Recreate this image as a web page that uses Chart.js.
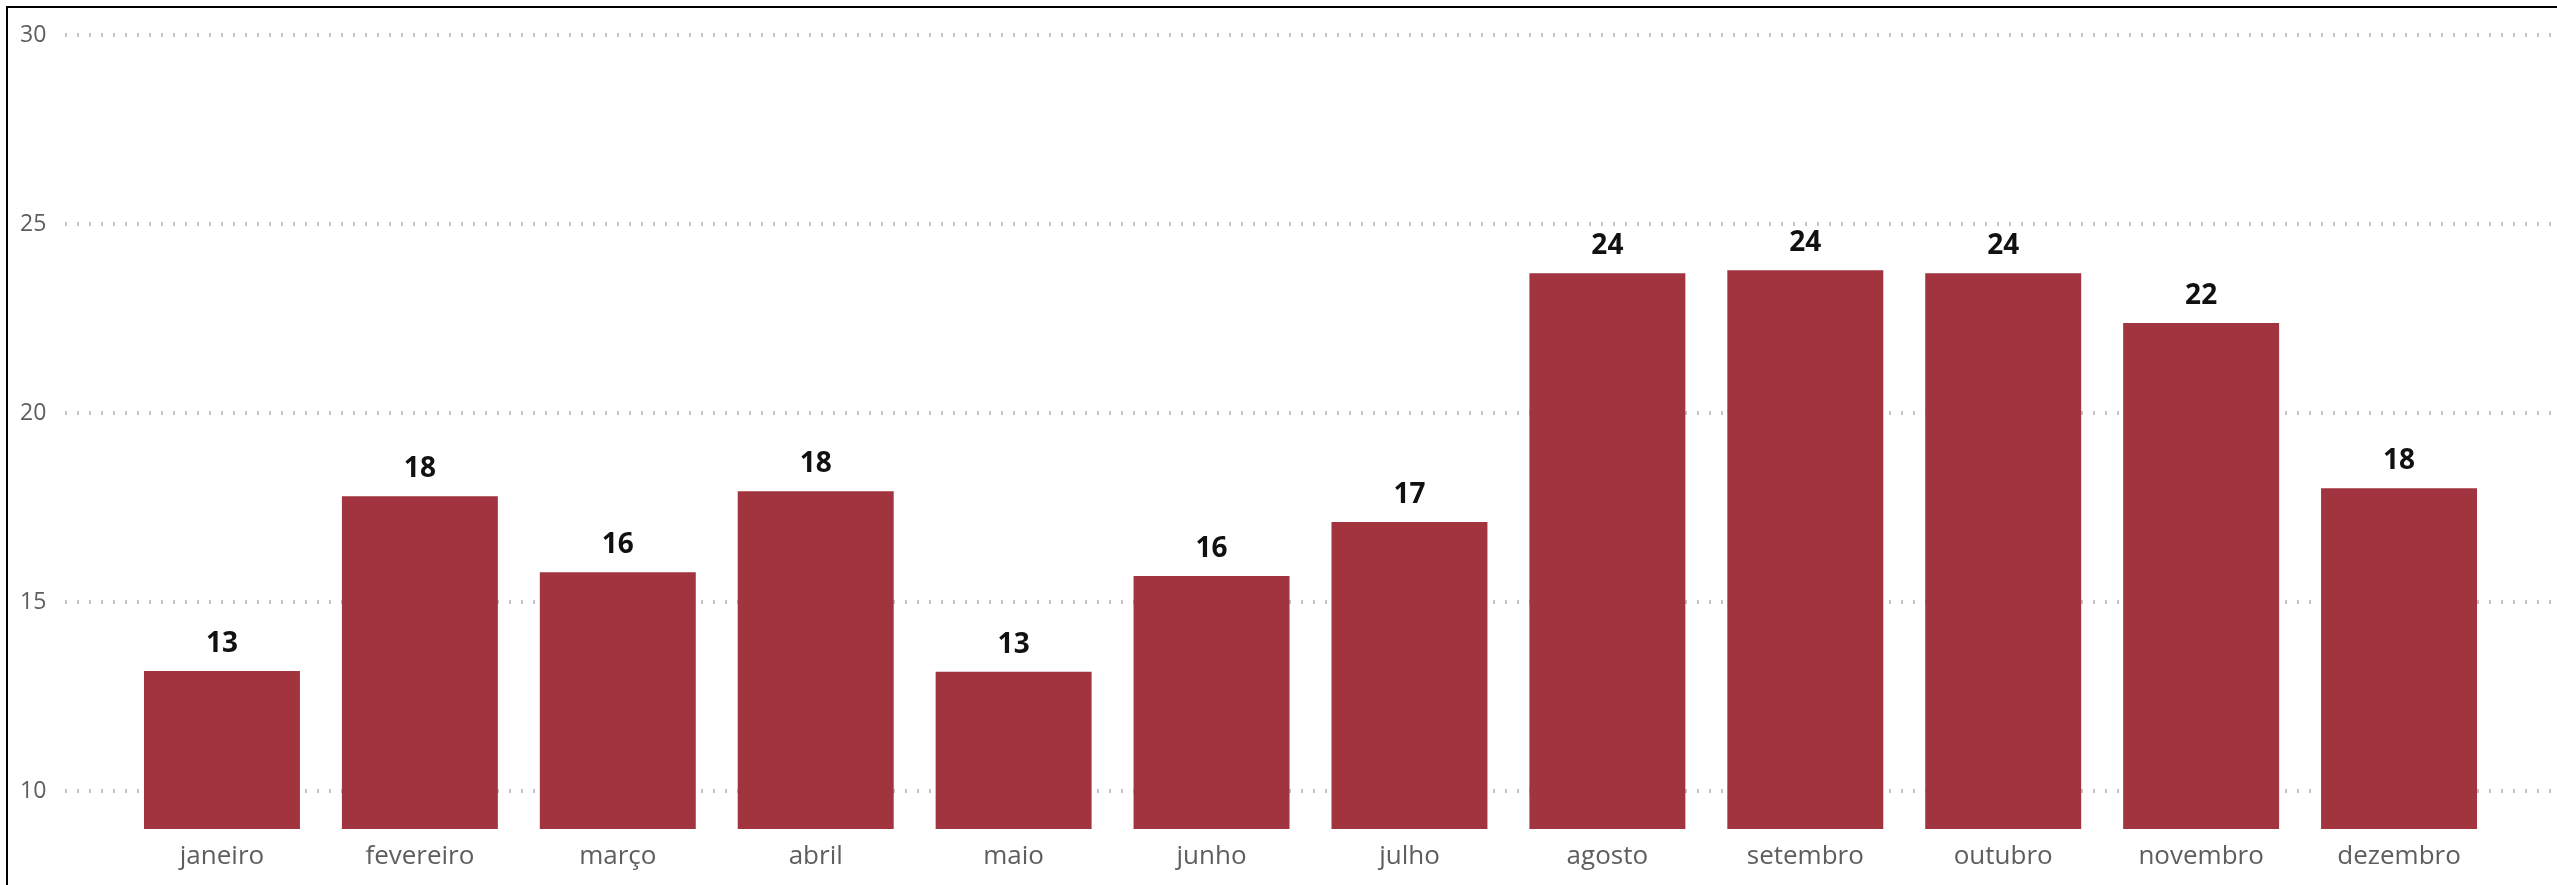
<!DOCTYPE html>
<html>
<head>
<meta charset="utf-8">
<script src="https://cdn.jsdelivr.net/npm/chart.js@4"></script>
<style>
  html, body { margin: 0; padding: 0; background: #fff; overflow: hidden; }
  #frame {
    position: absolute; left: 6px; top: 6px;
    width: 2600px; height: 920px;
    border-left: 2px solid #000; border-top: 2px solid #000;
  }
  #myChart { position: absolute; left: 0; top: 0; }
</style>
</head>
<body>
<div id="frame"></div>
<canvas id="myChart" width="2557" height="885"></canvas>
<script>
const months = ['janeiro', 'fevereiro', 'março', 'abril', 'maio', 'junho',
                'julho', 'agosto', 'setembro', 'outubro', 'novembro', 'dezembro'];
const values = [13.18, 17.80, 15.79, 17.93, 13.16, 15.69, 17.12, 23.70, 23.78, 23.70, 22.38, 18.01];
const yTicks = [10, 15, 20, 25, 30];

const FONT = "'Open Sans', 'Noto Sans', sans-serif";

// dotted horizontal lines, a bit wider than the bar area
const dottedGrid = {
    id: 'dottedGrid',
    beforeDatasetsDraw(chart) {
        const ctx = chart.ctx;
        const y = chart.scales.y;
        const area = chart.chartArea;
        ctx.save();
        ctx.strokeStyle = '#c4c4c4';
        ctx.lineWidth = 4;
        ctx.setLineDash([2, 10]);
        y.ticks.forEach(t => {
            const py = Math.round(y.getPixelForValue(t.value));
            ctx.beginPath();
            ctx.moveTo(area.left - 58, py);
            ctx.lineTo(area.right + 58, py);
            ctx.stroke();
        });
        ctx.restore();
    }
};

// value labels above bars
const barLabels = {
    id: 'barLabels',
    afterDatasetsDraw(chart) {
        const ctx = chart.ctx;
        const meta = chart.getDatasetMeta(0);
        ctx.save();
        ctx.font = "bold 28px " + FONT;
        ctx.fillStyle = '#111';
        ctx.textAlign = 'center';
        ctx.textBaseline = 'alphabetic';
        meta.data.forEach((bar, i) => {
            ctx.fillText(Math.round(values[i]), bar.x, bar.y - 19);
        });
        ctx.restore();
    }
};

const ctx = document.getElementById('myChart').getContext('2d');

new Chart(ctx, {
    type: 'bar',
    data: {
        labels: months,
        datasets: [{
            data: values,
            backgroundColor: '#a1343f',
            borderWidth: 0,
            categoryPercentage: 1,
            barPercentage: 0.788
        }]
    },
    options: {
        responsive: false,
        animation: false,
        layout: { padding: { left: 20, right: 59, top: 35, bottom: 0 } },
        plugins: {
            legend: { display: false },
            tooltip: { enabled: false }
        },
        scales: {
            x: {
                grid: { display: false },
                border: { display: false },
                ticks: {
                    color: '#605e5c',
                    font: { family: FONT, size: 26 },
                    padding: 4,
                    maxRotation: 0
                },
                afterFit: s => { s.height = 56; }
            },
            y: {
                min: 9,
                max: 30,
                grid: { display: false, drawTicks: false },
                border: { display: false },
                ticks: {
                    color: '#605e5c',
                    font: { family: FONT, size: 23 },
                    padding: 0,
                    crossAlign: 'far'
                },
                afterBuildTicks: s => { s.ticks = yTicks.map(v => ({ value: v })); },
                afterFit: s => { s.width = 103; }
            }
        }
    },
    plugins: [dottedGrid, barLabels]
});
</script>
</body>
</html>
